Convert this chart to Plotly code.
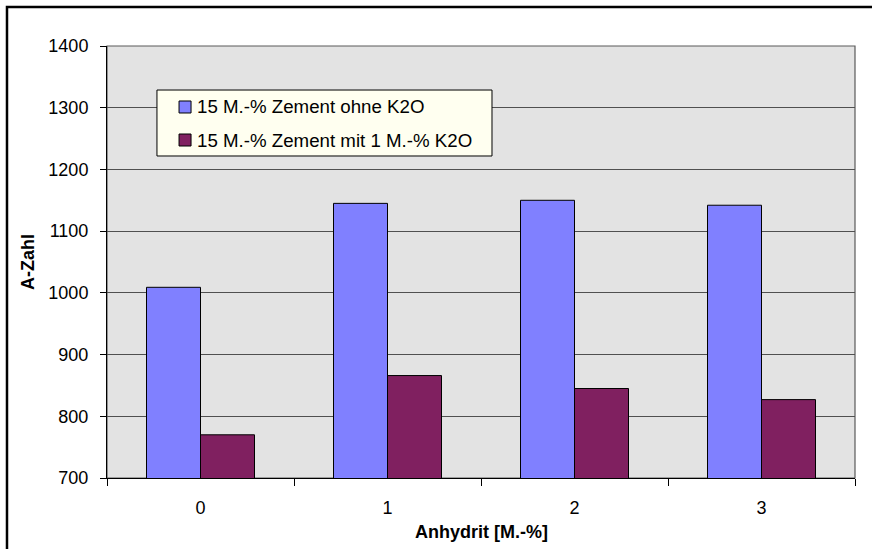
import plotly.graph_objects as go

# Anhydrit content [M.-%] on the category axis
categories = ["0", "1", "2", "3"]

# A-Zahl for the two cement mixes
series_names = [
    "15 M.-% Zement ohne K2O",
    "15 M.-% Zement mit 1 M.-% K2O",
]
values_ohne_k2o = [1009, 1145, 1150, 1142]
values_mit_k2o = [770, 866, 845, 827]

y_ticks = [700, 800, 900, 1000, 1100, 1200, 1300, 1400]

colors = ["#8080FF", "#802060"]
font_family = "Liberation Sans, Arial, sans-serif"

fig = go.Figure()
for name, vals, col in zip(series_names, [values_ohne_k2o, values_mit_k2o], colors):
    fig.add_trace(go.Bar(
        x=categories, y=vals, name=name,
        marker=dict(color=col, line=dict(color="#000000", width=1)),
        showlegend=False,
    ))

shapes = []
# outer chart frame
shapes.append(dict(type="rect", xref="paper", yref="paper",
                   x0=-0.1337, x1=1.2, y0=-0.3, y1=1.0903,
                   line=dict(color="#000000", width=2.5), fillcolor="rgba(0,0,0,0)",
                   layer="above"))
# plot area border (top / right)
shapes.append(dict(type="rect", xref="paper", yref="paper",
                   x0=0, x1=1, y0=0, y1=1,
                   line=dict(color="#5a5a5a", width=1.2), fillcolor="rgba(0,0,0,0)",
                   layer="below"))

# legend box
lg_x0, lg_x1, lg_y0, lg_y1 = 0.0668, 0.5147, 0.7454, 0.8981
shapes.append(dict(type="rect", xref="paper", yref="paper",
                   x0=lg_x0, x1=lg_x1, y0=lg_y0, y1=lg_y1,
                   line=dict(color="#000000", width=1), fillcolor="#FFFFF0",
                   layer="above"))
annotations = []
key_rows = [0.8588, 0.7824]
sq_w = 12 / 748
sq_h = 12 / 432
for name, col, yc in zip(series_names, colors, key_rows):
    shapes.append(dict(type="rect", xref="paper", yref="paper",
                       x0=0.0963, x1=0.0963 + sq_w, y0=yc - sq_h / 2, y1=yc + sq_h / 2,
                       line=dict(color="#000000", width=1), fillcolor=col,
                       layer="above"))
    annotations.append(dict(text=name, xref="paper", yref="paper",
                            x=0.1183, y=yc, xanchor="left", yanchor="middle",
                            showarrow=False,
                            font=dict(family=font_family, size=18.7, color="#000000")))

# axis titles
annotations.append(dict(text="<b>Anhydrit [M.-%]</b>", xref="paper", yref="paper",
                        x=0.5, y=(478 - 532) / 432, xanchor="center", yanchor="middle",
                        showarrow=False,
                        font=dict(family=font_family, size=18, color="#000000")))
annotations.append(dict(text="<b>A-Zahl</b>", xref="paper", yref="paper",
                        x=(28 - 107) / 748, y=0.5, xanchor="center", yanchor="middle",
                        textangle=-90, showarrow=False,
                        font=dict(family=font_family, size=18, color="#000000")))

fig.update_layout(
    width=872, height=549,
    margin=dict(l=107, r=17, t=46, b=71),
    paper_bgcolor="#FFFFFF",
    plot_bgcolor="#E3E3E3",
    barmode="group",
    bargap=0.4225,
    bargroupgap=0,
    font=dict(family=font_family, size=18, color="#000000"),
    shapes=shapes,
    annotations=annotations,
    showlegend=False,
)
fig.update_xaxes(
    type="category",
    tickson="boundaries",
    ticks="outside", ticklen=7, tickcolor="#000000", tickwidth=1,
    showline=True, linecolor="#000000", linewidth=1,
    showgrid=False,
    ticklabelstandoff=13,
    tickfont=dict(family=font_family, size=18, color="#000000"),
)
fig.update_yaxes(
    range=[700, 1400],
    tickvals=y_ticks,
    ticks="outside", ticklen=6, tickcolor="#000000", tickwidth=1,
    showline=True, linecolor="#000000", linewidth=1,
    showgrid=True, gridcolor="#505050", gridwidth=1,
    zeroline=False,
    ticklabelstandoff=8,
    tickfont=dict(family=font_family, size=18, color="#000000"),
)

fig.write_html("out.html")
